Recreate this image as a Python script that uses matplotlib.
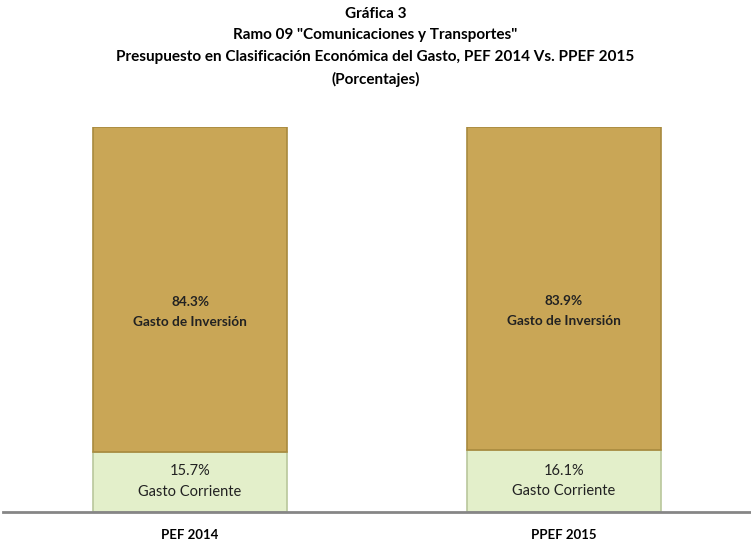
import matplotlib.pyplot as plt

categorias = ['PEF 2014', 'PPEF 2015']
corriente = [15.7, 16.1]
inversion = [84.3, 83.9]

plt.rcParams['font.family'] = ['Lato', 'DejaVu Sans']

fig = plt.figure(figsize=(7.51, 5.44), dpi=100)
ax = fig.add_axes([0.004, 0.0588, 0.996, 0.7077])

x = range(len(categorias))
ax.bar(x, corriente, width=0.52, color='#E3EFCA', edgecolor='#B9C79C', linewidth=1.2)
ax.bar(x, inversion, width=0.52, bottom=corriente, color='#C9A656', edgecolor='#A88A3E', linewidth=1.2)

for i in x:
    ax.text(i, corriente[i] / 2, f'{corriente[i]:.1f}%\nGasto Corriente',
            ha='center', va='center', fontsize=10.5, color='#222222', linespacing=1.6)
    ax.text(i, corriente[i] + inversion[i] * 0.43, f'{inversion[i]:.1f}%\nGasto de Inversión',
            ha='center', va='center', fontsize=9.8, fontweight='bold', color='#222222', linespacing=1.75)

ax.set_xlim(-0.5, 1.5)
ax.set_ylim(0, 100)
ax.set_xticks(list(x))
ax.set_xticklabels(categorias, fontsize=9.5, fontweight='bold')
ax.tick_params(axis='x', length=0, pad=12)
ax.set_yticks([])
for s in ['top', 'left', 'right']:
    ax.spines[s].set_visible(False)
ax.spines['bottom'].set_color('#868686')
ax.spines['bottom'].set_linewidth(2)

fig.text(0.5, 0.988, 'Gráfica 3\nRamo 09 "Comunicaciones y Transportes"\n'
         'Presupuesto en Clasificación Económica del Gasto, PEF 2014 Vs. PPEF 2015\n(Porcentajes)',
         ha='center', va='top', fontsize=11, fontweight='bold', linespacing=1.7)

fig.savefig('out.png', dpi=100)
